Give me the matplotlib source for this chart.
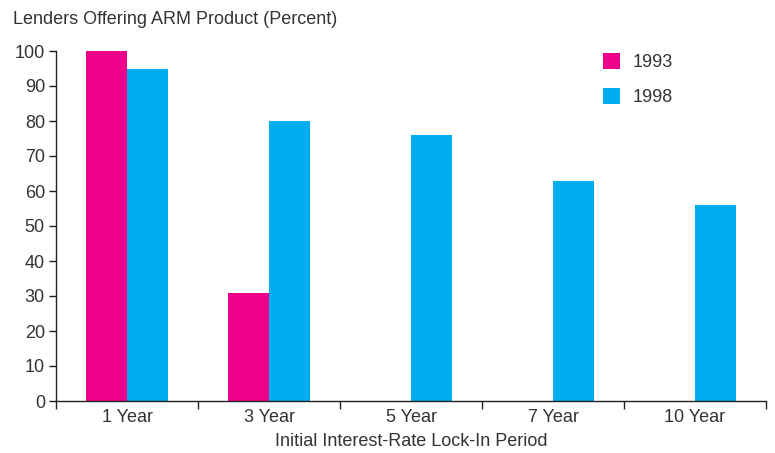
import matplotlib
matplotlib.use("Agg")
import matplotlib.pyplot as plt
import numpy as np

categories = ["1 Year", "3 Year", "5 Year", "7 Year", "10 Year"]
values_1993 = [100, 31, None, None, None]
values_1998 = [95, 80, 76, 63, 56]
series_names = ["1993", "1998"]
colors = ["#EC008C", "#00AEEF"]
yticks = [0, 10, 20, 30, 40, 50, 60, 70, 80, 90, 100]

plt.rcParams['font.family'] = ['Liberation Sans', 'DejaVu Sans']
text_color = "#333333"
fs = 13

fig = plt.figure(figsize=(7.75, 4.53), dpi=100)
ax = fig.add_axes([56/775, 1-401/453, (766-56)/775, (401-51)/453])

centers = np.arange(len(categories)) + 0.5
w = 0.29
for i, c in enumerate(centers):
    v93 = values_1993[i]
    if v93 is not None:
        ax.bar(c - w/2, v93, width=w, color=colors[0], linewidth=0)
    ax.bar(c + w/2, values_1998[i], width=w, color=colors[1], linewidth=0)

ax.set_xlim(0, len(categories))
ax.set_ylim(0, 100)
ax.set_yticks(yticks)
ax.set_yticklabels([str(t) for t in yticks], fontsize=fs, color=text_color)
ax.set_xticks(np.arange(len(categories) + 1))
ax.set_xticklabels([])
ax.set_xticks(centers, minor=True)
ax.set_xticklabels(categories, minor=True, fontsize=fs, color=text_color)
ax.tick_params(axis='x', which='minor', length=0, pad=6)
ax.tick_params(axis='x', which='major', length=6, width=1, direction='out', color='#222222')
ax.tick_params(axis='y', length=5, width=1, direction='out', pad=3, color='#222222')

for s in ['top', 'right']:
    ax.spines[s].set_visible(False)
for s in ['left', 'bottom']:
    ax.spines[s].set_linewidth(1)
    ax.spines[s].set_color('#222222')

ax.set_xlabel("Initial Interest-Rate Lock-In Period", fontsize=fs, color=text_color, labelpad=5)
fig.text(13/775, 1-20/453, "Lenders Offering ARM Product (Percent)", fontsize=fs,
         color=text_color, va='center', ha='left')

from matplotlib.patches import Patch
handles = [Patch(facecolor=colors[0], edgecolor='none'), Patch(facecolor=colors[1], edgecolor='none')]
leg = ax.legend(handles, series_names, loc='upper left', bbox_to_anchor=(587/775, 1-37/453),
                bbox_transform=fig.transFigure, frameon=False, fontsize=fs,
                handlelength=0.95, handleheight=0.95, handletextpad=0.65, labelspacing=0.95)
for t in leg.get_texts():
    t.set_color(text_color)

fig.savefig("out.png", dpi=100)
